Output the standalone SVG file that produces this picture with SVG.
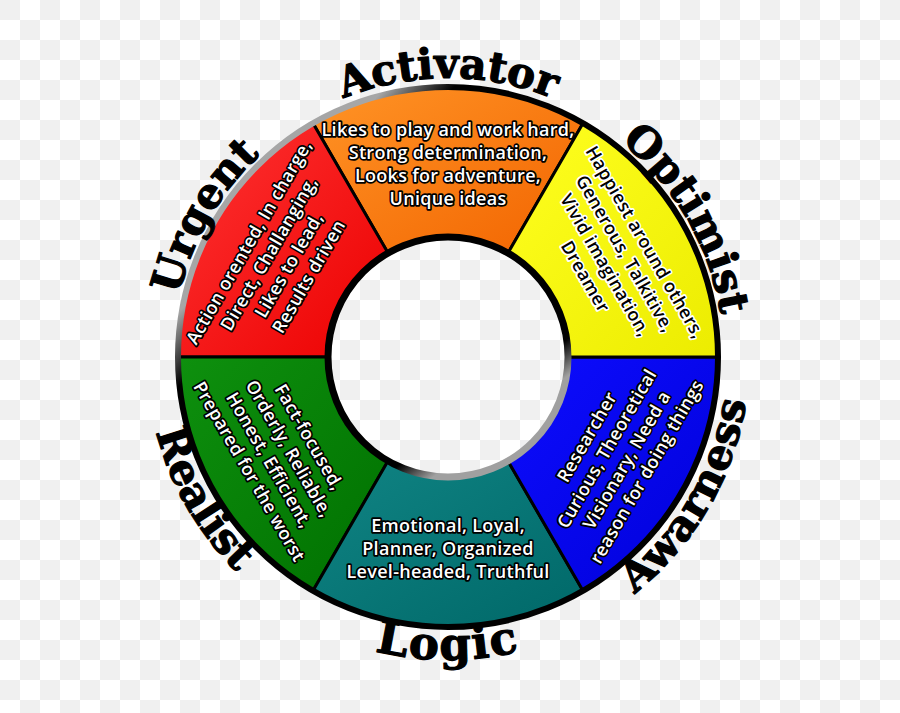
<svg xmlns="http://www.w3.org/2000/svg" width="900" height="713" viewBox="0 0 900 713">
<defs>
<pattern id="chk" width="40" height="40" patternUnits="userSpaceOnUse">
<rect width="40" height="40" fill="#ffffff"/>
<rect width="20" height="20" fill="#f0f0f0"/>
<rect x="20" y="20" width="20" height="20" fill="#f0f0f0"/>
</pattern>
<linearGradient id="gRed" x1="0" y1="0" x2="1" y2="1"><stop offset="0" stop-color="#ff3434"/><stop offset="1" stop-color="#ec0000"/></linearGradient>
<linearGradient id="gOrange" x1="0" y1="0" x2="1" y2="1"><stop offset="0" stop-color="#ff9426"/><stop offset="1" stop-color="#f26400"/></linearGradient>
<linearGradient id="gYellow" x1="0" y1="0" x2="1" y2="1"><stop offset="0" stop-color="#ffff20"/><stop offset="1" stop-color="#ecec00"/></linearGradient>
<linearGradient id="gBlue" x1="0" y1="0" x2="1" y2="1"><stop offset="0" stop-color="#0d0dff"/><stop offset="1" stop-color="#0000d8"/></linearGradient>
<linearGradient id="gTeal" x1="0" y1="0" x2="1" y2="1"><stop offset="0" stop-color="#108484"/><stop offset="1" stop-color="#006868"/></linearGradient>
<linearGradient id="gGreen" x1="0" y1="0" x2="1" y2="1"><stop offset="0" stop-color="#0e900e"/><stop offset="1" stop-color="#007000"/></linearGradient>
<linearGradient id="gOuter" gradientUnits="userSpaceOnUse" x1="156" y1="337" x2="193" y2="371"><stop offset="0" stop-color="#a6a6a6"/><stop offset="1" stop-color="#000000"/></linearGradient>
<linearGradient id="gInner" gradientUnits="userSpaceOnUse" x1="559" y1="345" x2="577" y2="369"><stop offset="0" stop-color="#000000"/><stop offset="1" stop-color="#a0a0a0"/></linearGradient>
<path id="pAct" d="M 169,357 A 279 279 0 0 1 727,357"/>
<path id="pOpt" d="M 308.5,115.4 A 279 279 0 0 1 587.5,598.6"/>
<path id="pUrg" d="M 308.5,598.6 A 279 279 0 0 1 587.5,115.4"/>
<path id="pLog" d="M 145,357 A 303 303 0 0 0 751,357"/>
<path id="pRea" d="M 296.5,94.6 A 303 303 0 0 0 599.5,619.4"/>
<path id="pAwa" d="M 296.5,619.4 A 303 303 0 0 0 599.5,94.6"/>
</defs>
<style>
.seg { stroke: #000; stroke-width: 3; stroke-linejoin: round; }
.t { font-family: "Open Sans", "Noto Sans", sans-serif; font-weight: 600; font-size: 18px; letter-spacing: 0.3px; text-anchor: middle; fill: #fff; stroke: #000; stroke-width: 3.4px; paint-order: stroke; stroke-linejoin: round; }
.ty { fill: #000; stroke: #fff; }
.lbl { font-family: "DejaVu Serif", "Liberation Serif", serif; font-weight: bold; font-size: 42px; fill: #000; stroke: #000; stroke-width: 1.2px; stroke-linejoin: round; }
</style>
<rect width="900" height="713" fill="url(#chk)"/>

<g id="segments">
<g id="orange"><path class="seg" fill="url(#gOrange)" d="M 583,123.2 A 270 270 0 0 0 313,123.2 L 388,253.1 A 120 120 0 0 1 508,253.1 Z"/></g>
<g id="red"><path class="seg" fill="url(#gRed)" d="M 313,123.2 A 270 270 0 0 0 178,357 L 328,357 A 120 120 0 0 1 388,253.1 Z"/></g>
<g id="green"><path class="seg" fill="url(#gGreen)" d="M 178,357 A 270 270 0 0 0 313,590.8 L 388,460.9 A 120 120 0 0 1 328,357 Z"/></g>
<g id="teal"><path class="seg" fill="url(#gTeal)" d="M 313,590.8 A 270 270 0 0 0 583,590.8 L 508,460.9 A 120 120 0 0 1 388,460.9 Z"/></g>
<g id="blue"><path class="seg" fill="url(#gBlue)" d="M 583,590.8 A 270 270 0 0 0 718,357 L 568,357 A 120 120 0 0 1 508,460.9 Z"/></g>
<g id="yellow"><path class="seg" fill="url(#gYellow)" d="M 718,357 A 270 270 0 0 0 583,123.2 L 508,253.1 A 120 120 0 0 1 568,357 Z"/></g>
</g>

<g id="rims">
<circle cx="448" cy="357" r="270" fill="none" stroke="url(#gOuter)" stroke-width="6"/>
<circle cx="448" cy="357" r="120" fill="none" stroke="url(#gInner)" stroke-width="7"/>
</g>

<g id="text-orange">
<text class="t" x="448" y="136">Likes to play and work hard,</text>
<text class="t" x="448" y="159">Strong determination,</text>
<text class="t" x="448" y="182">Looks for adventure,</text>
<text class="t" x="448" y="205">Unique ideas</text>
</g>
<g id="text-red" transform="translate(279,259.5) rotate(-60)">
<text class="t" x="0" y="-28.5">Action orented, In charge,</text>
<text class="t" x="0" y="-5.5">Direct, Challanging,</text>
<text class="t" x="0" y="17.5">Likes to lead,</text>
<text class="t" x="0" y="40.5">Results driven</text>
</g>
<g id="text-yellow" transform="translate(615,259.5) rotate(60)">
<text class="t ty" x="0" y="-28.5">Happiest around others,</text>
<text class="t ty" x="0" y="-5.5">Generous, Talkitive,</text>
<text class="t ty" x="0" y="17.5">Vivid imagination,</text>
<text class="t ty" x="0" y="40.5">Dreamer</text>
</g>
<g id="text-green" transform="translate(279,454.5) rotate(60)">
<text class="t" x="0" y="-28.5">Fact-focused,</text>
<text class="t" x="0" y="-5.5">Orderly, Reliable,</text>
<text class="t" x="0" y="17.5">Honest, Efficient,</text>
<text class="t" x="0" y="40.5">Prepared for the worst</text>
</g>
<g id="text-blue" transform="translate(617,454.5) rotate(-60)">
<text class="t" x="0" y="-28.5">Researcher</text>
<text class="t" x="0" y="-5.5">Curious, Theoretical</text>
<text class="t" x="0" y="17.5">Visionary, Need a</text>
<text class="t" x="0" y="40.5">reason for doing things</text>
</g>
<g id="text-teal">
<text class="t" x="448" y="532">Emotional, Loyal,</text>
<text class="t" x="448" y="555">Planner, Organized</text>
<text class="t" x="448" y="578">Level-headed, Truthful</text>
</g>

<g id="labels">
<text class="lbl" text-anchor="middle"><textPath href="#pAct" startOffset="50%">Activator</textPath></text>
<text class="lbl" text-anchor="middle"><textPath href="#pOpt" startOffset="50%">Optimist</textPath></text>
<text class="lbl" text-anchor="middle"><textPath href="#pUrg" startOffset="50%">Urgent</textPath></text>
<text class="lbl" text-anchor="middle" style="font-size:45px;letter-spacing:2px"><textPath href="#pLog" startOffset="50%">Logic</textPath></text>
<text class="lbl" text-anchor="middle"><textPath href="#pRea" startOffset="50%">Realist</textPath></text>
<text class="lbl" text-anchor="middle" style="letter-spacing:1px"><textPath href="#pAwa" startOffset="50%">Awarness</textPath></text>
</g>
</svg>
